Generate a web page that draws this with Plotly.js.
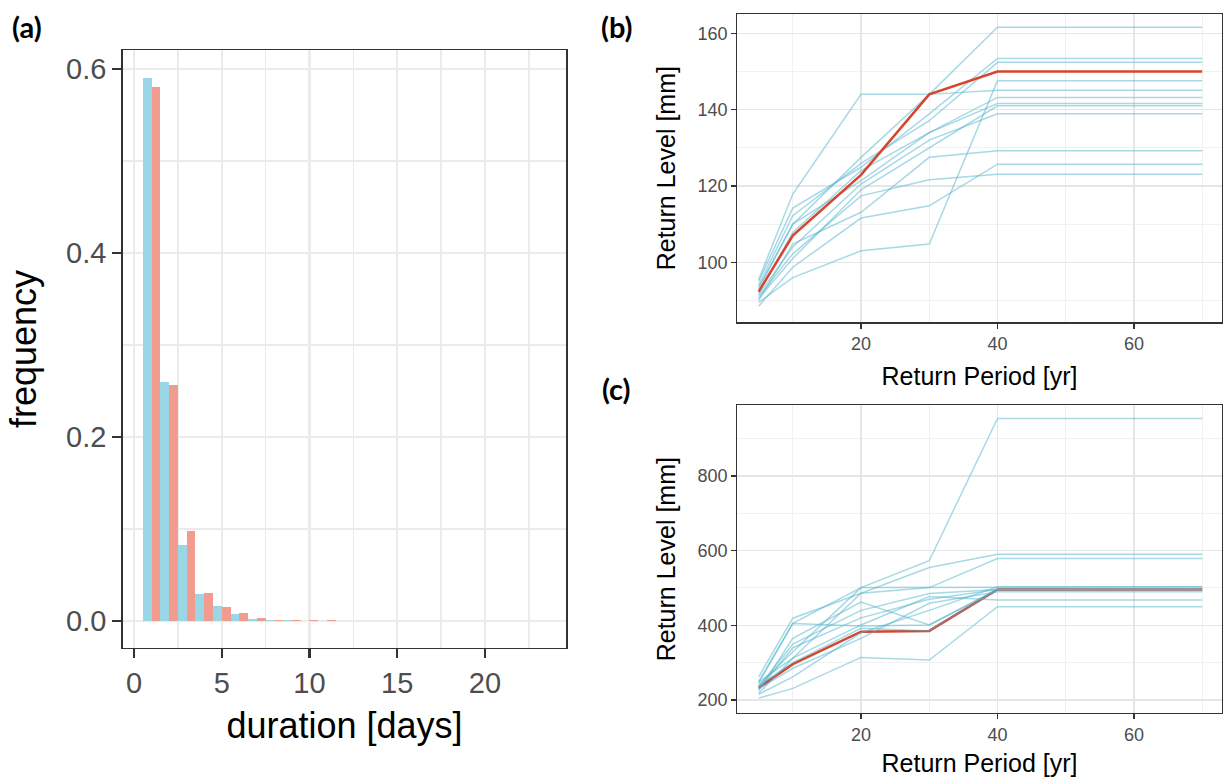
<!DOCTYPE html>
<html>
<head>
<meta charset="utf-8">
<script src="https://cdn.plot.ly/plotly-3.0.1.min.js"></script>
<style>
html,body{margin:0;padding:0;background:#fff;}
#chart{width:1224px;height:778px;}
</style>
</head>
<body>
<div id="chart"></div>
<script>
// ---------- Panel (a): duration histogram ----------
var durationDays = [1,2,3,4,5,6,7,8,9,10,11,12,13,14,15,16,17,18,19,20,21,22,23];
var freqBlue = [0.590,0.260,0.083,0.029,0.0166,0.0075,0.0020,0.0016,0.0009,0.0005,0.0004,0.0002,0.0001,0.0001,0,0,0,0,0,0,0,0,0];
var freqRed  = [0.581,0.2565,0.098,0.030,0.0158,0.0092,0.0032,0.0012,0.0008,0.0010,0.0006,0.0003,0.0001,0,0,0,0,0,0,0,0,0,0.0001];

// ---------- Panels (b) and (c): return level curves ----------
var returnPeriods = [5,10,20,30,40,70];

var rlRedB = [92.3,107,122.9,144.0,150.0,150.0];
var rlBlueB = [
  [93.5,110.0,127.5,144.0,161.6,161.6],
  [95.5,117.9,144.0,144.0,145.1,145.1],
  [89.5,96.0,103.0,104.8,147.6,147.6],
  [88.5,98.7,111.6,114.8,125.7,125.7],
  [91.0,102.2,117.4,121.6,123.1,123.1],
  [90.0,104.8,113.1,127.5,129.2,129.2],
  [95.0,114.2,124.9,138.9,153.4,153.4],
  [94.0,112.2,125.9,137.1,152.4,152.4],
  [93.0,110.0,121.4,134.0,141.6,141.6],
  [92.0,107.8,124.0,134.0,143.2,143.2],
  [91.5,104.0,120.5,132.0,138.9,138.9],
  [90.5,101.0,119.0,130.0,141.0,141.0]
];

var rlRedC = [233,296,383,385,496,496];
var rlBlueC = [
  [250,405,501,573,954,954],
  [262,419,486,555,590,590],
  [245,405,398,401,496,496],
  [225,365,462,401,496,496],
  [240,329,501,501,503,503],
  [218,312,486,501,579,579],
  [205,231,314,307,450,450],
  [230,285,365,459,490,490],
  [248,312,401,477,468,468],
  [238,300,392,385,496,496],
  [215,262,380,440,503,503],
  [228,340,420,470,496,496],
  [235,350,440,485,496,496]
];

var panelLabels = ["(a)","(b)","(c)"];

var blueLine = 'rgba(80,180,205,0.5)';
var redLine = '#D6452E';

var traces = [];
traces.push({type:'bar', x:durationDays, y:freqBlue, xaxis:'x', yaxis:'y',
  marker:{color:'#9AD7E6', line:{width:0}}, showlegend:false, hoverinfo:'x+y'});
traces.push({type:'bar', x:durationDays, y:freqRed, xaxis:'x', yaxis:'y',
  marker:{color:'#F29C90', line:{width:0}}, showlegend:false, hoverinfo:'x+y'});

rlBlueB.forEach(function(s){
  traces.push({type:'scatter', mode:'lines', x:returnPeriods, y:s, xaxis:'x2', yaxis:'y2',
    line:{color:blueLine, width:1.5}, showlegend:false});
});
traces.push({type:'scatter', mode:'lines', x:returnPeriods, y:rlRedB, xaxis:'x2', yaxis:'y2',
  line:{color:redLine, width:2.5}, showlegend:false});

traces.push({type:'scatter', mode:'lines', x:returnPeriods, y:rlRedC, xaxis:'x3', yaxis:'y3',
  line:{color:redLine, width:2.5}, showlegend:false});
rlBlueC.forEach(function(s){
  traces.push({type:'scatter', mode:'lines', x:returnPeriods, y:s, xaxis:'x3', yaxis:'y3',
    line:{color:blueLine, width:1.5}, showlegend:false});
});

var FONT = 'Liberation Sans, Arial, sans-serif';
function axA(extra){
  var base = {
    showline:true, mirror:true, linecolor:'#333333', linewidth:1.5,
    ticks:'outside', ticklen:9, tickwidth:2.5, tickcolor:'#333333',
    showgrid:true, gridcolor:'#EBEBEB', gridwidth:2.5, zeroline:false,
    tickfont:{family:FONT, size:29, color:'#4D4D4D'},
    fixedrange:true
  };
  for (var k in extra) base[k]=extra[k];
  return base;
}
function axB(extra){
  var base = {
    showline:true, mirror:true, linecolor:'#333333', linewidth:1.2,
    ticks:'outside', ticklen:5, tickwidth:1.2, tickcolor:'#333333',
    showgrid:true, gridcolor:'#E6E6E6', gridwidth:1.3, zeroline:false,
    tickfont:{family:FONT, size:18, color:'#4D4D4D'},
    fixedrange:true
  };
  for (var k in extra) base[k]=extra[k];
  return base;
}

var layout = {
  width:1224, height:778,
  margin:{l:0,r:0,t:0,b:0},
  paper_bgcolor:'#fff', plot_bgcolor:'#fff',
  barmode:'group', bargap:0, bargroupgap:0,
  showlegend:false,
  xaxis: axA({domain:[0.1002,0.4628], range:[-0.65,24.65], anchor:'y',
    tick0:0, dtick:5,
    minor:{dtick:2.5, showgrid:true, gridcolor:'#EBEBEB', gridwidth:1.5, ticks:''},
    title:{text:'duration [days]', font:{family:FONT, size:36, color:'#000'}, standoff:14}}),
  yaxis: axA({domain:[0.1671,0.9357], range:[-0.0293,0.6207], anchor:'x',
    tick0:0, dtick:0.2, tickformat:'.1f',
    minor:{dtick:0.1, showgrid:true, gridcolor:'#EBEBEB', gridwidth:1.5, ticks:''},
    title:{text:'frequency', font:{family:FONT, size:36, color:'#000'}, standoff:18}}),
  xaxis2: axB({domain:[0.6024,0.9981], range:[1.875,72.85], anchor:'y2',
    tick0:0, dtick:20,
    minor:{dtick:10, showgrid:true, gridcolor:'#EEEEEE', gridwidth:0.8, ticks:''},
    title:{text:'Return Period [yr]', font:{family:FONT, size:25, color:'#000'}, standoff:14}}),
  yaxis2: axB({domain:[0.5857,0.9820], range:[84.27,165.06], anchor:'x2',
    tick0:0, dtick:20,
    minor:{dtick:10, showgrid:true, gridcolor:'#EEEEEE', gridwidth:0.8, ticks:''},
    title:{text:'Return Level [mm]', font:{family:FONT, size:25, color:'#000'}, standoff:14}}),
  xaxis3: axB({domain:[0.6024,0.9981], range:[1.875,72.85], anchor:'y3',
    tick0:0, dtick:20,
    minor:{dtick:10, showgrid:true, gridcolor:'#EEEEEE', gridwidth:0.8, ticks:''},
    title:{text:'Return Period [yr]', font:{family:FONT, size:25, color:'#000'}, standoff:10}}),
  yaxis3: axB({domain:[0.0832,0.4794], range:[164.4,990], anchor:'x3',
    tick0:0, dtick:200,
    minor:{dtick:100, showgrid:true, gridcolor:'#EEEEEE', gridwidth:0.8, ticks:''},
    title:{text:'Return Level [mm]', font:{family:FONT, size:25, color:'#000'}, standoff:14}}),
  annotations:[
    {text:'<b>'+panelLabels[0]+'</b>', xref:'paper', yref:'paper', x:27/1224, y:1-27/778, xanchor:'center', yanchor:'middle',
     showarrow:false, font:{family:'Lato, sans-serif', size:29, color:'#000'}},
    {text:'<b>'+panelLabels[1]+'</b>', xref:'paper', yref:'paper', x:617/1224, y:1-27/778, xanchor:'center', yanchor:'middle',
     showarrow:false, font:{family:'Lato, sans-serif', size:29, color:'#000'}},
    {text:'<b>'+panelLabels[2]+'</b>', xref:'paper', yref:'paper', x:616/1224, y:1-388/778, xanchor:'center', yanchor:'middle',
     showarrow:false, font:{family:'Lato, sans-serif', size:29, color:'#000'}}
  ]
};

Plotly.newPlot('chart', traces, layout, {displayModeBar:false, staticPlot:true});
</script>
</body>
</html>
